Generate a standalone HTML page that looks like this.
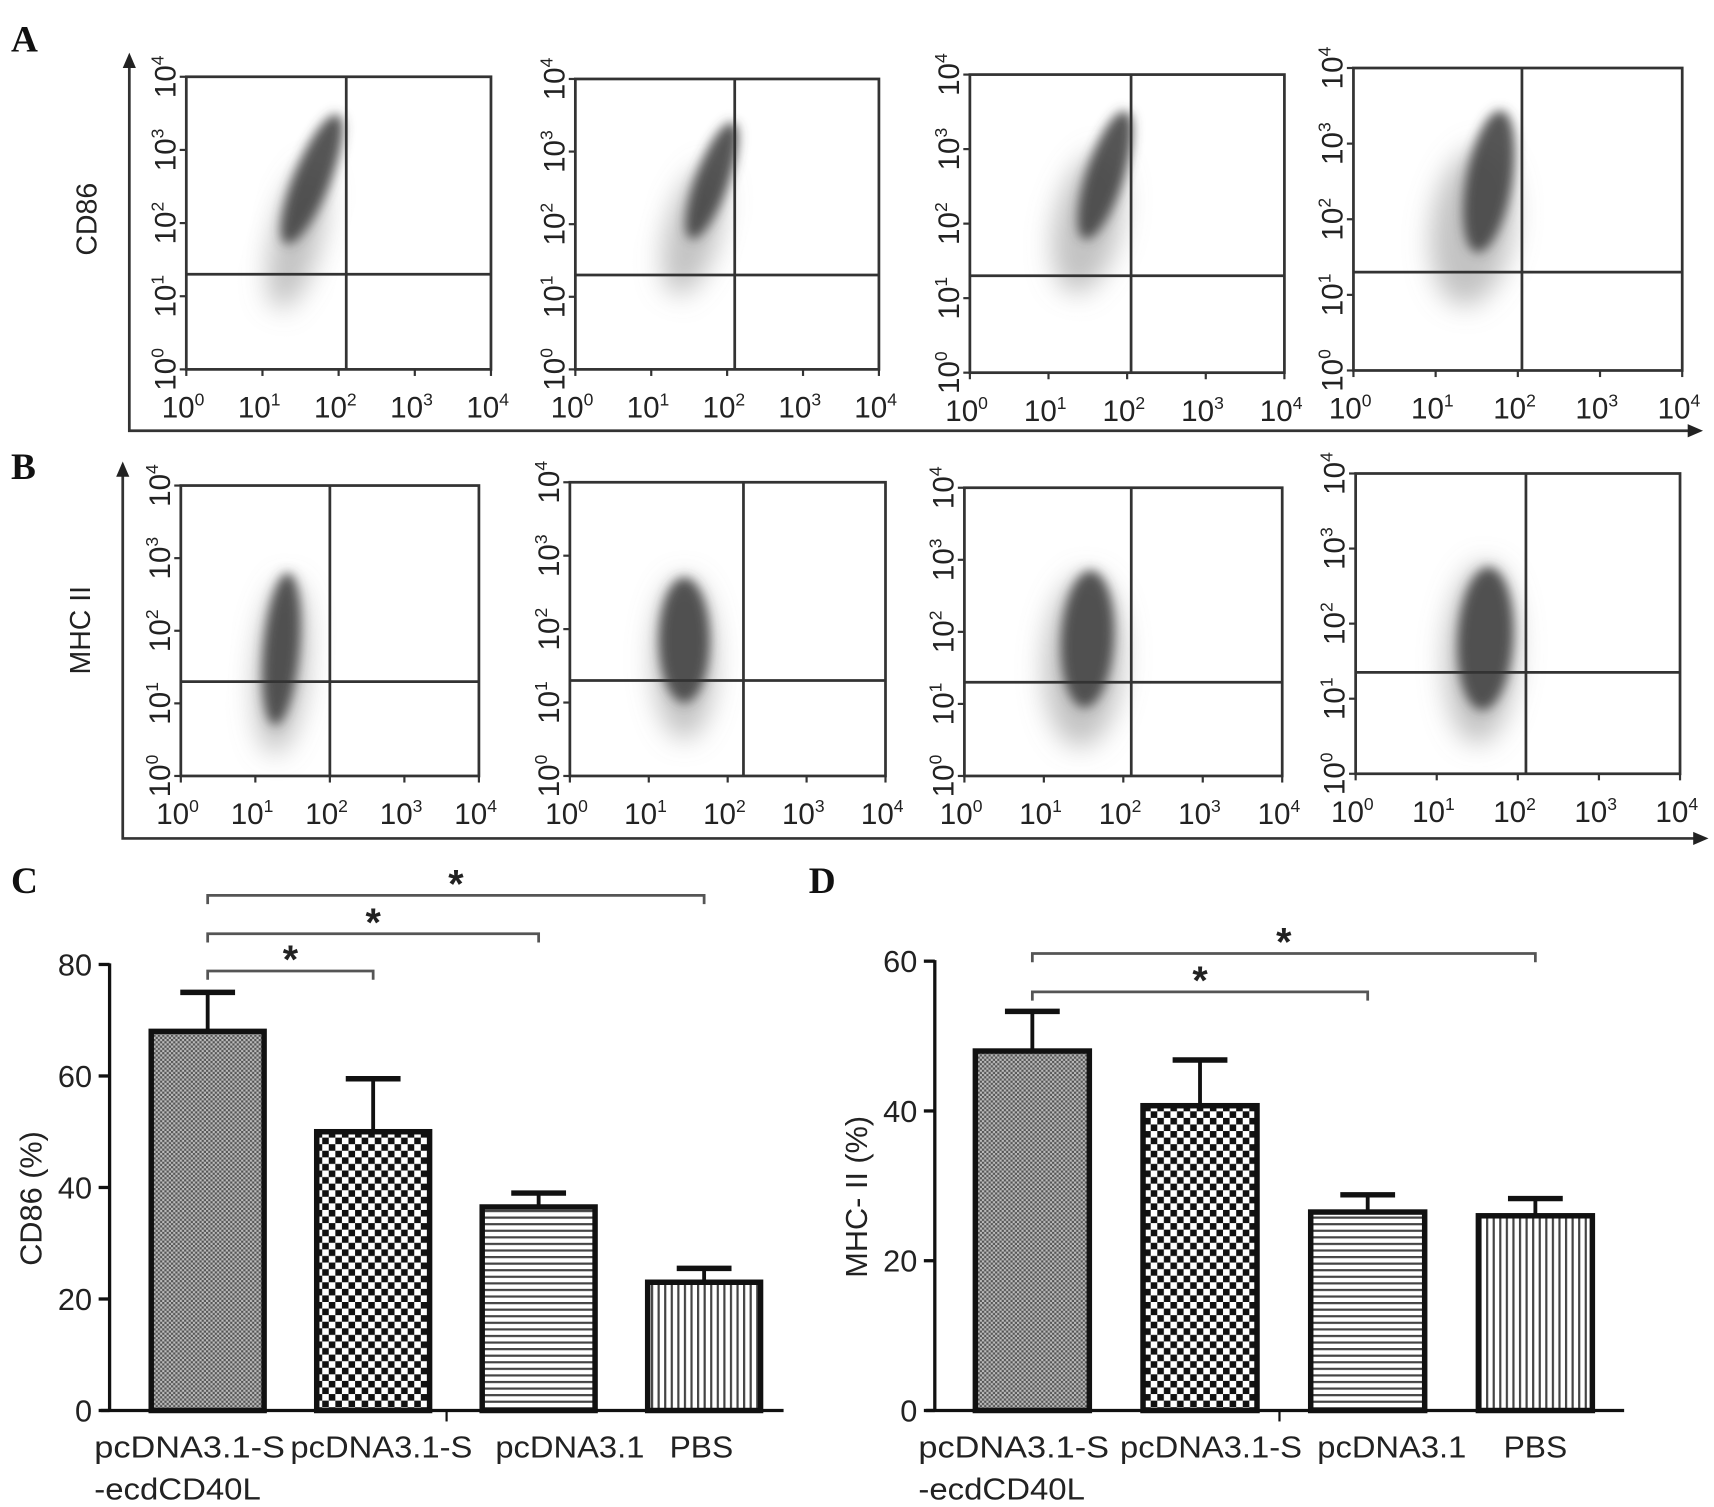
<!DOCTYPE html>
<html><head><meta charset="utf-8"><style>
html,body{margin:0;padding:0;background:#fff;}
svg{display:block;}
text{font-family:"Liberation Sans",sans-serif;fill:#222;}
.pl{font-family:"Liberation Serif",serif;font-weight:bold;font-size:34px;fill:#111;}
</style></head><body>
<svg id="fig" width="1714" height="1507" viewBox="0 0 1564 1375" xmlns="http://www.w3.org/2000/svg">
<defs>
<filter id="blur" x="-50%" y="-50%" width="200%" height="200%"><feGaussianBlur stdDeviation="5"/></filter>
<filter id="blur2" x="-50%" y="-50%" width="200%" height="200%"><feGaussianBlur stdDeviation="12"/></filter>
<pattern id="pFine" width="4" height="4" patternUnits="userSpaceOnUse"><rect width="4" height="4" fill="#bbb"/><rect width="2" height="2" fill="#555"/><rect x="2" y="2" width="2" height="2" fill="#555"/></pattern>
<pattern id="pCheck" width="12" height="12" patternUnits="userSpaceOnUse"><rect width="12" height="12" fill="#fff"/><rect width="6" height="6" fill="#111"/><rect x="6" y="6" width="6" height="6" fill="#111"/></pattern>
<pattern id="pH" width="8" height="6" patternUnits="userSpaceOnUse"><rect width="8" height="6" fill="#fff"/><rect width="8" height="2" fill="#444"/></pattern>
<pattern id="pV" width="6" height="8" patternUnits="userSpaceOnUse"><rect width="6" height="8" fill="#fff"/><rect width="2" height="8" fill="#444"/></pattern>
</defs>
<text class="pl" x="10" y="47">A</text>
<text class="pl" x="10" y="437">B</text>
<text class="pl" x="10" y="815">C</text>
<text class="pl" x="738" y="815">D</text>
<g id="flow"></g>
<g id="charts"></g>
</svg>
<script>
// ---- flow cytometry panels ----
const flowTickExp = ["0","1","2","3","4"];
const flowBoxes = [[170,70,448,337],[525,72,802,337],[885,68,1172,340],[1235,62,1535,338],
                   [165,443,437,708],[520,440,808,708],[880,445,1170,708],[1237,432,1533,706]];
const flowGateX = [2.1,2.1,2.05,2.05, 2.0,2.2,2.1,2.1];
const flowGateY = [1.3,1.3,1.3,1.3, 1.3,1.3,1.3,1.35];
// dense blobs: [logX, logY, rxLog, ryLog, angleDeg]
const denseBlobs = [[1.65,2.6,0.24,0.95,22],[1.8,2.6,0.22,0.85,20],[1.72,2.65,0.24,0.9,18],[1.65,2.5,0.28,0.95,10],
                    [1.35,1.75,0.24,1.05,5],[1.45,1.85,0.32,0.85,0],[1.55,1.9,0.33,0.95,3],[1.6,1.8,0.34,0.95,3]];
const sparseBlobs = [[1.45,1.8,0.32,1.0,14],[1.55,1.9,0.35,0.9,15],[1.5,2.0,0.42,0.95,12],[1.45,1.9,0.5,1.05,8],
                     [1.35,1.5,0.35,1.2,5],[1.45,1.6,0.4,1.1,0],[1.5,1.6,0.5,1.2,3],[1.55,1.6,0.45,1.2,3]];
const flowYLabels = ["CD86","MHC II"];

// ---- bar charts ----
const categories = ["pcDNA3.1-S\n-ecdCD40L","pcDNA3.1-S","pcDNA3.1","PBS"];
const cd86Values = [68,50,36.5,23];
const cd86Errors = [7,9.5,2.5,2.5];
const cd86Ticks = [0,20,40,60,80];
const mhcValues = [48,40.7,26.5,26];
const mhcErrors = [5.3,6.1,2.3,2.3];
const mhcTicks = [0,20,40,60];
const cd86Sig = [[0,3],[0,2],[0,1]];
const mhcSig = [[0,3],[0,2]];

const NS="http://www.w3.org/2000/svg";
function mk(tag,attrs,parent){const e=document.createElementNS(NS,tag);for(const k in attrs)e.setAttribute(k,attrs[k]);parent.appendChild(e);return e;}

const flow=document.getElementById('flow');
flowBoxes.forEach((b,i)=>{
  const g=mk('g',{},flow);
  
  
  const [x0,y0,x1,y1]=b;
  const sx=v=>x0+(x1-x0)*v/4, sy=v=>y1-(y1-y0)*v/4;
  const kx=(x1-x0)/4, ky=(y1-y0)/4;
  const sb=sparseBlobs[i], db=denseBlobs[i];
  const e1=mk('ellipse',{cx:sx(sb[0]),cy:sy(sb[1]),rx:sb[2]*kx,ry:sb[3]*ky,fill:'#888','fill-opacity':0.5,filter:'url(#blur2)',transform:`rotate(${sb[4]} ${sx(sb[0])} ${sy(sb[1])})`},g);
  
  
  const e2=mk('ellipse',{cx:sx(db[0]),cy:sy(db[1]),rx:db[2]*kx,ry:db[3]*ky,fill:'#444','fill-opacity':0.9,filter:'url(#blur)',transform:`rotate(${db[4]} ${sx(db[0])} ${sy(db[1])})`},g);
  
  
  mk('rect',{x:x0,y:y0,width:x1-x0,height:y1-y0,fill:'none',stroke:'#333','stroke-width':2.5},g);
  mk('line',{x1:sx(flowGateX[i]),x2:sx(flowGateX[i]),y1:y0,y2:y1,stroke:'#333','stroke-width':2.5},g);
  mk('line',{x1:x0,x2:x1,y1:sy(flowGateY[i]),y2:sy(flowGateY[i]),stroke:'#333','stroke-width':2.5},g);
  flowTickExp.forEach((t,j)=>{
    const tx=mk('text',{x:sx(j)-3,y:y1+44,'font-size':27,'text-anchor':'middle'},g);
    tx.innerHTML='10<tspan dy="-11" font-size="16">'+t+'</tspan>';
    
    
    const ty=mk('text',{x:0,y:0,'font-size':27,'text-anchor':'middle',transform:`translate(${x0-10},${sy(j)}) rotate(-90)`},g);
    ty.innerHTML='10<tspan dy="-11" font-size="16">'+t+'</tspan>';
    
    
    mk('line',{x1:sx(j),x2:sx(j),y1:y1,y2:y1+6,stroke:'#333','stroke-width':2},g);
    mk('line',{x1:x0-6,x2:x0,y1:sy(j),y2:sy(j),stroke:'#333','stroke-width':2},g);
  });
});
[[118,52,393,1550],[112,425,765,1555]].forEach((a,i)=>{
  const g=mk('g',{},flow);
  
  
  mk('polyline',{points:`${a[0]},${a[1]+8} ${a[0]},${a[2]} ${a[3]-8},${a[2]}`,fill:'none',stroke:'#333','stroke-width':2.5},g);
  mk('polygon',{points:`${a[0]-6},${a[1]+10} ${a[0]+6},${a[1]+10} ${a[0]},${a[1]-4}`,fill:'#222'},g);
  mk('polygon',{points:`${a[3]-10},${a[2]-6} ${a[3]-10},${a[2]+6} ${a[3]+4},${a[2]}`,fill:'#222'},g);
  const yl=mk('text',{x:0,y:0,'font-size':26,'text-anchor':'middle',transform:`translate(${i?82:88},${i?575:200}) rotate(-90)`},g);
  yl.textContent=flowYLabels[i];
  
  
});

const charts=document.getElementById('charts');
const fills=['url(#pFine)','url(#pCheck)','url(#pH)','url(#pV)'];
function barChart(cfg){
  const g=mk('g',{},charts);
  
  
  const y=v=>cfg.y0-(cfg.y0-cfg.yTop)*v/cfg.max;
  const bw=cfg.bw;
  mk('line',{x1:cfg.ax,x2:cfg.ax,y1:y(cfg.max)-1,y2:cfg.y0,stroke:'#111','stroke-width':3},g);
  mk('line',{x1:cfg.ax-8,x2:cfg.xEnd,y1:cfg.y0,y2:cfg.y0,stroke:'#111','stroke-width':3},g);
  mk('line',{x1:(cfg.ax+cfg.xEnd)/2,x2:(cfg.ax+cfg.xEnd)/2,y1:cfg.y0,y2:cfg.y0+10,stroke:'#111','stroke-width':2},g);
  cfg.ticks.forEach(t=>{
    mk('line',{x1:cfg.ax-10,x2:cfg.ax,y1:y(t),y2:y(t),stroke:'#111','stroke-width':3},g);
    const tx=mk('text',{x:cfg.ax-16,y:y(t)+10,'font-size':28,'text-anchor':'end'},g);
    tx.textContent=t;
    
    
  });
  const yt=mk('text',{x:0,y:0,'font-size':28,'text-anchor':'middle',transform:`translate(${cfg.ax-62},${(cfg.y0+y(cfg.max))/2+10}) rotate(-90)`},g);
  yt.textContent=cfg.title;
  
  
  const cx=[];
  cfg.values.forEach((v,i)=>{
    const x=cfg.x1+i*cfg.step; cx.push(x+bw/2);
    const e=y(v+cfg.errors[i]);
    mk('line',{x1:x+bw/2,x2:x+bw/2,y1:e,y2:y(v),stroke:'#111','stroke-width':3.5},g);
    mk('line',{x1:x+bw/2-25,x2:x+bw/2+25,y1:e,y2:e,stroke:'#111','stroke-width':5},g);
    const r=mk('rect',{x:x,y:y(v),width:bw,height:cfg.y0-y(v),fill:fills[i],stroke:'#111','stroke-width':5},g);
    
    
  });
  const lx=cfg.labelX, lw=[[174,152],[166],[136],[58]];
  categories.forEach((c,i)=>{
    c.split('\n').forEach((ln,k)=>{
      const t=mk('text',{x:lx[i],y:cfg.y0+43+k*38,'font-size':28,textLength:lw[i][k],lengthAdjust:'spacingAndGlyphs'},g);
      t.textContent=ln;
      
      
    });
  });
  cfg.sig.forEach((s,k)=>{
    const yy=cfg.sigY[k];
    const a=cx[s[0]], b=cx[s[1]];
    mk('polyline',{points:`${a},${yy+8} ${a},${yy} ${b},${yy} ${b},${yy+8}`,fill:'none',stroke:'#555','stroke-width':2.5},g);
    const st=mk('text',{x:(a+b)/2,y:yy+2,'font-size':36,'text-anchor':'middle','font-weight':'bold'},g);
    st.textContent='*';
    
    
  });
}
barChart({name:'chart-cd86',ax:100,xEnd:715,y0:1287,yTop:880,max:80,ticks:cd86Ticks,values:cd86Values,errors:cd86Errors,
  x1:138,step:151,bw:103,title:'CD86 (%)',sig:cd86Sig,sigY:[817,852,886],labelX:[86,265,452,611]});
barChart({name:'chart-mhc',ax:853,xEnd:1482,y0:1287,yTop:877,max:60,ticks:mhcTicks,values:mhcValues,errors:mhcErrors,
  x1:890,step:153,bw:104,title:'MHC- II (%)',sig:mhcSig,sigY:[870,905],labelX:[838,1022,1202,1372]});
</script>
</body></html>
